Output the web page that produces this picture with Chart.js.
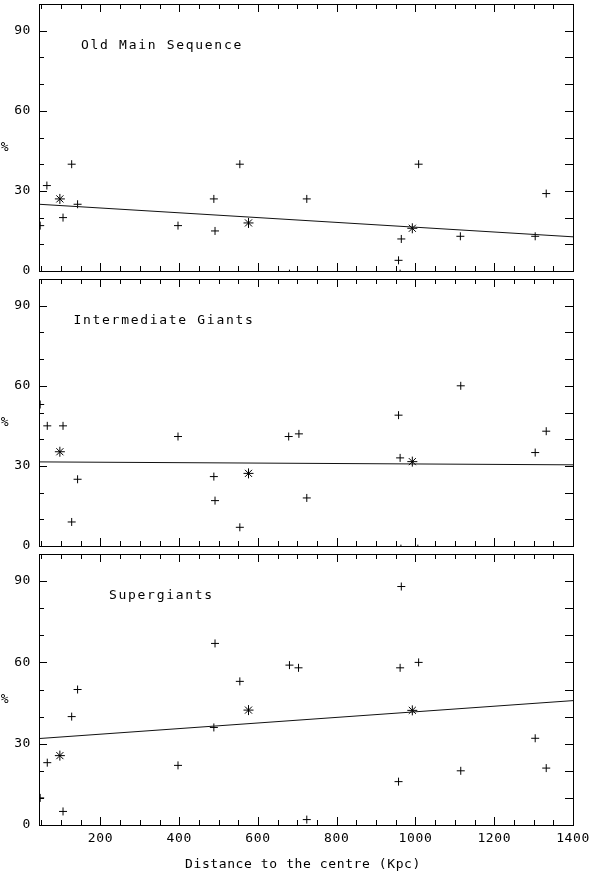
<!DOCTYPE html>
<html>
<head>
<meta charset="utf-8">
<script src="https://cdn.jsdelivr.net/npm/chart.js@4.4.1/dist/chart.umd.min.js"></script>
<style>
  html, body { margin: 0; padding: 0; background: #fff; }
  #wrap { position: relative; width: 589px; height: 874px; overflow: hidden; }
  .panel { position: absolute; left: 0; width: 589px; }
</style>
</head>
<body>
<div id="wrap">
  <div class="panel" style="top:-2px"><canvas id="c1" width="589" height="279"></canvas></div>
  <div class="panel" style="top:273px"><canvas id="c2" width="589" height="279"></canvas></div>
  <div class="panel" style="top:548px"><canvas id="c3" width="589" height="326"></canvas></div>
</div>
<script>
// distance to the centre (Kpc) and percentage, one pair of arrays per panel
var distOld = [47, 64, 105, 127, 142, 397, 488, 491, 554, 680, 724, 957, 961, 964, 1008, 1114, 1304, 1332];
var pctOld  = [17, 32, 20, 40, 25, 17, 27, 15, 40, -1, 27, 4, -1, 12, 40, 13, 13, 29];

var distInt = [47, 65, 105, 127, 142, 397, 488, 491, 554, 678, 704, 724, 957, 961, 963, 1006, 1115, 1304, 1332];
var pctInt  = [53, 45, 45, 9, 25, 41, 26, 17, 7, 41, 42, 18, 49, 33, -1, -1, 60, 35, 43];

var distSup = [47, 65, 105, 127, 142, 397, 488, 491, 554, 680, 703, 724, 957, 961, 964, 1008, 1115, 1304, 1332];
var pctSup  = [10, 23, 5, 40, 50, 22, 36, 67, 53, 59, 58, 2, 16, 58, 88, 60, 20, 32, 21];

// mean values (asterisks)
var meanDist = [97, 576, 992];
var meanOld  = [27, 18, 16];
var meanInt  = [35.3, 27.2, 31.6];
var meanSup  = [25.6, 42.4, 42.3];

// linear fits, evaluated at the axis ends
var fitDist = [44, 1400];
var fitOld  = [25.0, 12.8];
var fitInt  = [31.5, 30.4];
var fitSup  = [31.9, 45.9];

// axes
var xMin = 44, xMax = 1400;
var xTicks = [];
for (var t = 50; t < 1400; t += 50) xTicks.push(t);
var xLabels = [200, 400, 600, 800, 1000, 1200, 1400];
var yTicks = [10, 20, 30, 40, 50, 60, 70, 80, 90];
var yLabels = [0, 30, 60, 90];

var FONT = '13px "DejaVu Sans Mono", "Liberation Mono", monospace';

function pts(xs, ys) {
  return xs.map(function (x, i) { return { x: x, y: ys[i] }; });
}

function px(v) { return Math.round(v) + 0.5; }

function framePlugin(title, titleDx, last) {
  return {
    id: 'frame',
    afterDatasetsDraw: function (chart) {
      var ctx = chart.ctx, a = chart.chartArea;
      var xs = chart.scales.x, ys = chart.scales.y;
      ctx.save();
      ctx.strokeStyle = '#000';
      ctx.lineWidth = 1;
      ctx.strokeRect(px(a.left), px(a.top), Math.round(a.right) - Math.round(a.left), Math.round(a.bottom) - Math.round(a.top));

      ctx.beginPath();
      xTicks.forEach(function (v) {
        var x = px(xs.getPixelForValue(v));
        var len = v % 200 === 0 ? 8 : 5;
        ctx.moveTo(x, a.bottom); ctx.lineTo(x, a.bottom - len);
        ctx.moveTo(x, a.top); ctx.lineTo(x, a.top + len);
      });
      yTicks.forEach(function (v) {
        var y = px(ys.getPixelForValue(v));
        var len = v % 30 === 0 ? 8 : 5;
        ctx.moveTo(a.left, y); ctx.lineTo(a.left + len, y);
        ctx.moveTo(a.right, y); ctx.lineTo(a.right - 8, y);
      });
      ctx.stroke();

      ctx.fillStyle = '#000';
      ctx.font = FONT;
      try { ctx.letterSpacing = '0.6px'; } catch (e) {}
      ctx.textBaseline = 'middle';
      ctx.textAlign = 'right';
      yLabels.forEach(function (v) {
        ctx.fillText(String(v), a.left - 8, ys.getPixelForValue(v));
      });
      ctx.textAlign = 'center';
      ctx.fillText('%', 5, (a.top + a.bottom) / 2 + 10);

      if (last) {
        xLabels.forEach(function (v) {
          ctx.fillText(String(v), xs.getPixelForValue(v), a.bottom + 14);
        });
        ctx.fillText('Distance to the centre (Kpc)', 303, a.bottom + 40);
      }

      try { ctx.letterSpacing = '1.7px'; } catch (e) {}
      ctx.textAlign = 'left';
      ctx.fillText(title, a.left + titleDx, a.top + 41.5);
      ctx.restore();
    }
  };
}

function makePanel(id, title, titleDx, dist, pct, mean, fit, last) {
  new Chart(document.getElementById(id), {
    type: 'scatter',
    data: {
      datasets: [
        {
          data: pts(fitDist, fit),
          showLine: true,
          borderColor: '#111',
          borderWidth: 1,
          pointRadius: 0,
          clip: 0
        },
        {
          data: pts(dist, pct),
          pointStyle: 'cross',
          pointRadius: 4,
          borderColor: '#000',
          borderWidth: 1,
          clip: 0
        },
        {
          data: pts(meanDist, mean),
          pointStyle: 'star',
          pointRadius: 5,
          borderColor: '#000',
          borderWidth: 1,
          clip: 0
        }
      ]
    },
    options: {
      responsive: false,
      animation: false,
      events: [],
      layout: {
        padding: { left: 39, right: 16, top: 2, bottom: last ? 49 : 2 }
      },
      scales: {
        x: { type: 'linear', min: xMin, max: xMax, display: false },
        y: { type: 'linear', min: 0, max: 100, display: false }
      },
      plugins: {
        legend: { display: false },
        tooltip: { enabled: false }
      }
    },
    plugins: [framePlugin(title, titleDx, last)]
  });
}

makePanel('c1', 'Old Main Sequence', 42, distOld, pctOld, meanOld, fitOld, false);
makePanel('c2', 'Intermediate Giants', 34.5, distInt, pctInt, meanInt, fitInt, false);
makePanel('c3', 'Supergiants', 70, distSup, pctSup, meanSup, fitSup, true);
</script>
</body>
</html>
